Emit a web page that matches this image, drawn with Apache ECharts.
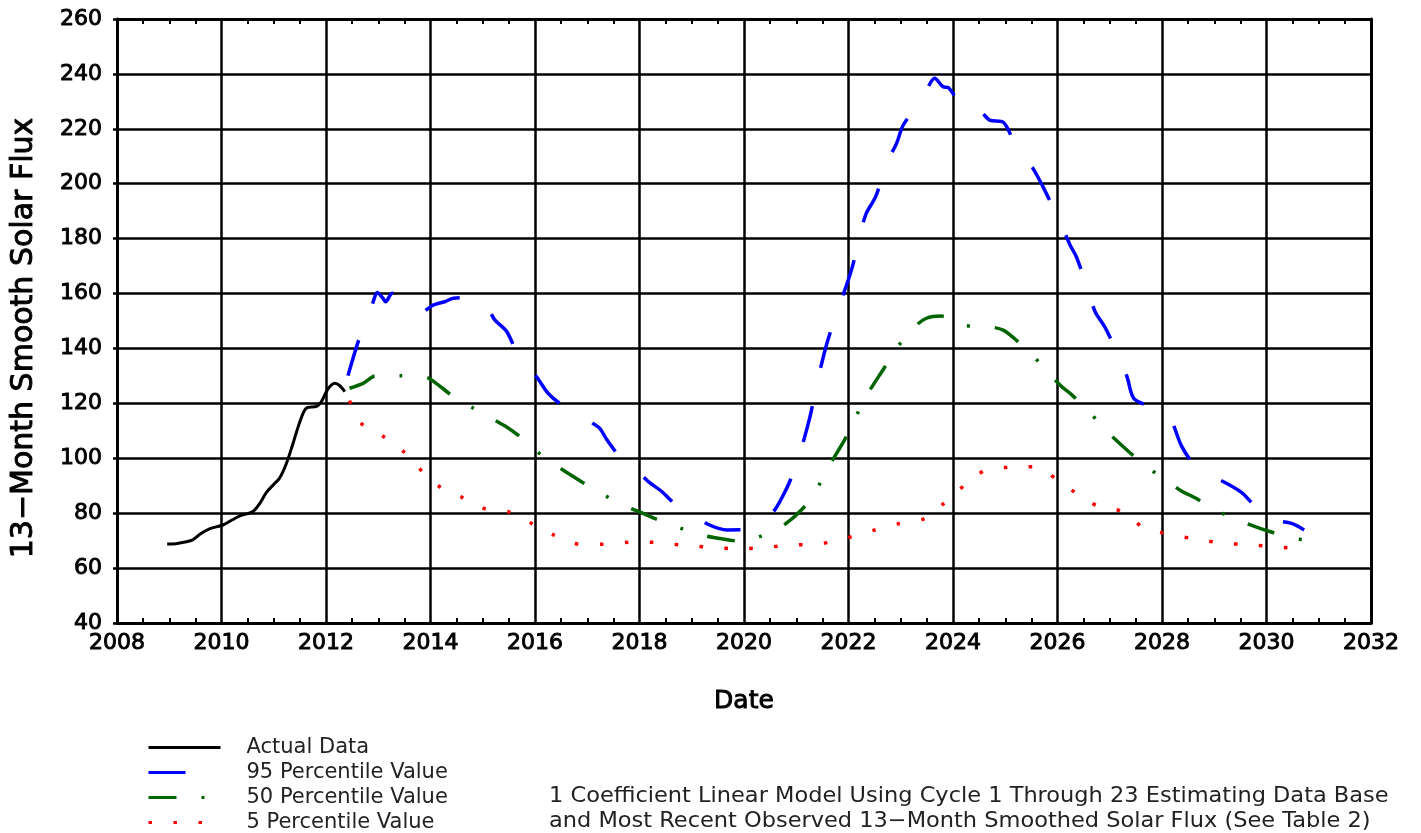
<!DOCTYPE html>
<html>
<head>
<meta charset="utf-8">
<script src="https://cdn.jsdelivr.net/npm/echarts@6/dist/echarts.min.js"></script>
<style>
html,body{margin:0;padding:0;background:#fff;}
#chart{width:1421px;height:833px;}
</style>
</head>
<body>
<div id="chart"></div>
<script>
// ---- Data ----
const actualYears = [2008.96,2009.13,2009.30,2009.45,2009.60,2009.77,2010.03,2010.20,2010.35,2010.60,2010.73,2010.86,2011.00,2011.11,2011.24,2011.37,2011.50,2011.62,2011.82,2011.91,2012.04,2012.17,2012.26,2012.36];
const actualFlux  = [68.8,68.9,69.5,70.3,72.5,74.3,75.7,77.5,79.0,80.6,83.5,87.6,90.5,92.7,98.0,105.5,113.3,118.2,118.9,120.6,125.3,127.3,126.5,124.3];

const p95Years = [2012.42,2012.63,2012.77,2012.90,2012.98,2013.09,2013.14,2013.27,2013.45,2013.62,2013.82,2014.05,2014.27,2014.44,2014.70,2015.02,2015.23,2015.45,2015.62,2015.82,2016.03,2016.25,2016.55,2016.89,2017.11,2017.24,2017.37,2017.60,2017.86,2018.00,2018.20,2018.42,2018.70,2019.04,2019.34,2019.68,2020.00,2020.38,2020.59,2020.80,2020.95,2021.07,2021.26,2021.42,2021.59,2021.83,2022.06,2022.24,2022.34,2022.52,2022.76,2022.92,2023.04,2023.25,2023.46,2023.65,2023.81,2023.91,2024.10,2024.32,2024.51,2024.70,2024.96,2025.15,2025.36,2025.53,2025.73,2025.90,2026.06,2026.24,2026.36,2026.50,2026.61,2026.72,2026.91,2027.08,2027.24,2027.34,2027.46,2027.75,2028.06,2028.18,2028.37,2028.60,2028.88,2029.05,2029.52,2029.80,2030.05,2030.48,2030.72];
const p95Flux  = [130.1,143.3,150.0,156.8,160.4,158.3,157.0,160.1,158.0,155.0,153.2,155.8,157.0,158.3,158.5,156.8,150.4,146.4,140.0,134.2,129.7,123.7,119.0,116.4,112.7,110.9,106.9,101.0,96.0,94.5,91.0,88.0,83.0,79.3,75.7,73.9,74.0,77.5,81.2,88.4,95.0,101.8,114.9,129.1,142.1,155.8,168.8,182.9,189.2,195.3,208.6,214.7,221.1,227.0,232.9,238.4,235.3,235.0,230.0,225.6,226.2,223.2,222.4,216.0,209.6,205.6,198.6,192.0,185.6,177.7,173.4,166.0,159.7,153.4,147.7,141.0,134.8,129.1,121.8,119.0,116.4,113.9,104.6,98.0,93.9,92.7,87.6,82.0,77.9,76.3,73.9];

const p50Years = [2012.45,2012.71,2012.95,2013.41,2013.91,2014.11,2014.37,2014.78,2015.20,2015.45,2015.67,2016.04,2016.44,2016.92,2017.34,2017.78,2018.00,2018.29,2018.76,2019.23,2019.50,2019.79,2020.00,2020.27,2020.72,2021.13,2021.42,2021.65,2021.93,2022.15,2022.38,2022.68,2022.94,2023.27,2023.49,2023.77,2024.19,2024.69,2024.96,2025.17,2025.53,2025.87,2026.08,2026.28,2026.62,2026.95,2027.37,2027.75,2028.15,2028.37,2028.63,2029.06,2029.49,2030.03,2030.51,2030.75];
const p50Flux  = [125.5,127.3,130.0,130.1,129.5,127.3,123.4,118.7,114.2,111.5,108.5,102.4,96.9,91.1,86.4,82.2,80.5,78.1,74.7,71.9,70.9,70.0,69.7,71.2,75.1,81.8,89.7,97.9,106.9,115.5,123.9,132.8,140.6,147.9,151.0,151.8,148.5,147.9,146.7,143.7,137.3,130.3,126.1,123.0,116.6,109.7,102.3,96.3,91.1,88.1,85.6,80.8,77.2,73.5,71.1,70.0];

const p5Years = [2012.45,2012.69,2013.10,2013.47,2013.79,2014.17,2014.62,2015.04,2015.51,2015.94,2016.38,2016.86,2017.35,2017.86,2018.35,2018.88,2019.40,2019.90,2020.43,2020.95,2021.45,2021.96,2022.45,2022.94,2023.44,2023.84,2024.23,2024.62,2025.07,2025.57,2025.98,2026.33,2026.77,2027.26,2027.65,2028.15,2028.66,2029.17,2029.68,2030.19,2030.71];
const p5Flux  = [121.0,112.4,107.9,102.7,96.2,89.7,85.6,81.6,80.4,76.2,71.9,68.7,68.7,69.5,69.3,68.2,67.6,67.0,67.6,68.4,68.8,70.9,73.6,76.1,77.9,83.8,90.3,95.7,96.7,96.9,92.4,87.6,82.6,80.5,74.7,72.3,70.5,69.1,68.5,67.7,67.1];

const seriesNames = ['Actual Data','95 Percentile Value','50 Percentile Value','5 Percentile Value'];
const xTicks = {min: 2008, max: 2032, step: 2};
const yTicks = {min: 40, max: 260, step: 20};
const noteLines = [
  '1 Coefficient Linear Model Using Cycle 1 Through 23 Estimating Data Base',
  'and Most Recent Observed 13\u2212Month Smoothed Solar Flux (See Table 2)'
];

const zip = (xs, ys) => xs.map((x, i) => [x, ys[i]]);

const chart = echarts.init(document.getElementById('chart'), null, {renderer: 'canvas'});
const tickFont = {fontFamily: 'DejaVu Sans', fontSize: 22, color: '#000', textBorderColor: '#000', textBorderWidth: 0.9};
const nameFont = {fontFamily: 'DejaVu Sans', color: '#000', textBorderColor: '#000', textBorderWidth: 0.9};

const option = {
  backgroundColor: '#fff',
  animation: false,
  grid: {left: 117, top: 19, right: 50, bottom: 210, show: false},
  xAxis: [{
    type: 'value', min: xTicks.min, max: xTicks.max, interval: xTicks.step,
    name: 'Date', nameLocation: 'middle', nameGap: 66,
    nameTextStyle: Object.assign({fontSize: 25}, nameFont),
    axisLine: {show: true, lineStyle: {color: '#000', width: 3}},
    axisTick: {show: false, inside: true},
    minorTick: {show: true, splitNumber: 4, length: 5, lineStyle: {color: '#000', width: 2}},
    axisLabel: Object.assign({margin: 9, formatter: v => String(v)}, tickFont),
    splitLine: {show: true, lineStyle: {color: '#000', width: 2.5}}
  }, {
    type: 'value', position: 'top', min: xTicks.min, max: xTicks.max, interval: xTicks.step,
    axisLine: {show: true, lineStyle: {color: '#000', width: 3}},
    axisTick: {show: false, inside: true},
    minorTick: {show: true, splitNumber: 4, length: 5, lineStyle: {color: '#000', width: 2}},
    axisLabel: {show: false},
    splitLine: {show: false}
  }],
  yAxis: [{
    type: 'value', min: yTicks.min, max: yTicks.max, interval: yTicks.step,
    name: '13\u2212Month Smooth Solar Flux', nameLocation: 'middle', nameGap: 78,
    nameTextStyle: Object.assign({fontSize: 30, padding: [0, 34, 0, 0]}, nameFont),
    axisLine: {show: true, lineStyle: {color: '#000', width: 3}},
    axisTick: {show: true, inside: false, length: 4, lineStyle: {color: '#000', width: 2.5}},
    axisLabel: Object.assign({margin: 15, formatter: v => String(v)}, tickFont),
    splitLine: {show: true, lineStyle: {color: '#000', width: 2.5}}
  }, {
    type: 'value', position: 'right', min: yTicks.min, max: yTicks.max, interval: yTicks.step,
    axisLine: {show: true, lineStyle: {color: '#000', width: 3}},
    axisTick: {show: false}, axisLabel: {show: false}, splitLine: {show: false}
  }],
  legend: {
    orient: 'vertical', left: 147, top: 735, height: 140, padding: 0,
    itemWidth: 72, itemHeight: 14, itemGap: 0,
    data: seriesNames,
    lineStyle: {width: 3},
    itemStyle: {opacity: 0},
    textStyle: {fontFamily: 'DejaVu Sans', fontSize: 21, color: '#222', lineHeight: 25, padding: [0, 0, 0, 21]},
    selectedMode: false
  },
  graphic: [{
    type: 'text', left: 549, top: 784, scaleX: 1.07,
    style: {text: noteLines.join('\n'), fontFamily: 'DejaVu Sans', fontSize: 21, lineHeight: 25, fill: '#222'}
  }],
  series: [
    {name: seriesNames[0], type: 'line', data: zip(actualYears, actualFlux), showSymbol: false, symbol: 'none',
     smooth: 0.3, lineStyle: {color: '#000', width: 3}, itemStyle: {color: '#000'}, z: 5},
    {name: seriesNames[1], type: 'line', data: zip(p95Years, p95Flux), showSymbol: false, symbol: 'none',
     smooth: 0.3, lineStyle: {color: '#0000ff', width: 3.5, type: [37, 39], cap: 'butt'}, itemStyle: {color: '#0000ff'}, z: 5},
    {name: seriesNames[2], type: 'line', data: zip(p50Years, p50Flux), showSymbol: false, symbol: 'none',
     smooth: 0.3, lineStyle: {color: '#006400', width: 3.5, type: [28, 25, 3, 25], cap: 'butt'}, itemStyle: {color: '#006400'}, z: 5},
    {name: seriesNames[3], type: 'line', data: zip(p5Years, p5Flux), showSymbol: false, symbol: 'none',
     smooth: 0.3, lineStyle: {color: '#ff0000', width: 3.5, type: [3.5, 21.5], cap: 'butt'}, itemStyle: {color: '#ff0000'}, z: 5}
  ]
};
chart.setOption(option);
</script>
</body>
</html>
